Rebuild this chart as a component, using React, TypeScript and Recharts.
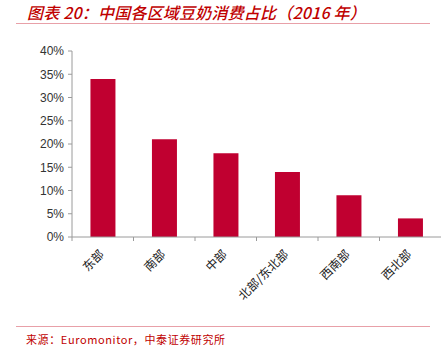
import React from "react";
import { BarChart, Bar, XAxis, YAxis } from "recharts";

const categories = ["东部", "南部", "中部", "北部/东北部", "西南部", "西北部"];
const shares = [0.34, 0.21, 0.18, 0.14, 0.09, 0.04];
const yTicks = [0, 0.05, 0.1, 0.15, 0.2, 0.25, 0.3, 0.35, 0.4];
const titleText = "图表 20：中国各区域豆奶消费占比（2016 年）";
const sourceText = "来源：Euromonitor，中泰证券研究所";

const data = categories.map((c, i) => ({ name: c, value: shares[i] }));

const AXIS_COLOR = "#9a9a9a";
const BAR_COLOR = "#C00030";

const XTick = (props: any) => {
  const { x, payload } = props;
  const off = payload && payload.offset ? payload.offset : 0;
  return (
    <g>
      <line x1={x - off} y1={237} x2={x - off} y2={241} stroke={AXIS_COLOR} strokeWidth={1} />
      <text
        x={x + 2}
        y={255}
        textAnchor="end"
        fontSize={12}
        fill="#222"
        fontFamily="'Noto Sans CJK SC', sans-serif"
        transform={`rotate(-45 ${x + 2} 255)`}
      >
        {payload.value}
      </text>
    </g>
  );
};

export default function App() {
  return (
    <div style={{ position: "absolute", left: 0, top: 0, width: 447, height: 357, background: "#fff" }}>
      <div
        style={{
          position: "absolute",
          left: 27,
          top: 2,
          fontFamily: "'Noto Sans CJK SC', sans-serif",
          fontStyle: "italic",
          fontWeight: 500,
          fontSize: 16,
          letterSpacing: 0.2,
          color: "#C00000",
          whiteSpace: "nowrap",
          lineHeight: "20px",
        }}
      >
        {titleText}
      </div>
      <div style={{ position: "absolute", left: 16, top: 23, width: 414, height: 1, background: "#e8a0a8" }} />
      <BarChart
        width={447}
        height={357}
        data={data}
        margin={{ top: 51, right: 6, left: 0, bottom: 0 }}
        barCategoryGap="30%"
      >
        <YAxis
          width={72}
          domain={[0, 0.4]}
          ticks={yTicks}
          interval={0}
          tickFormatter={(v: number) => `${Math.round(v * 100)}%`}
          stroke={AXIS_COLOR}
          tickSize={4}
          tickMargin={4}
          tick={{ fill: "#333", fontSize: 12, fontFamily: "'Liberation Sans', Arial, sans-serif" }}
        />
        <XAxis
          dataKey="name"
          height={120}
          interval={0}
          stroke={AXIS_COLOR}
          tickLine={false}
          tick={<XTick />}
        />
        <Bar dataKey="value" fill={BAR_COLOR} isAnimationActive={false} />
      </BarChart>
      <div style={{ position: "absolute", left: 16, top: 326, width: 414, height: 1, background: "#e8a0a8" }} />
      <div
        style={{
          position: "absolute",
          left: 26,
          top: 331,
          fontFamily: "'Noto Sans CJK SC', sans-serif",
          fontSize: 11,
          letterSpacing: 0.6,
          color: "#C00000",
          whiteSpace: "nowrap",
          lineHeight: "16px",
        }}
      >
        {sourceText}
      </div>
    </div>
  );
}
